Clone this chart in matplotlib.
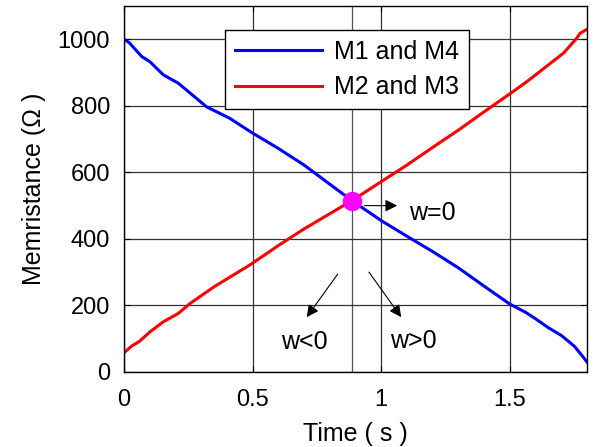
import numpy as np
import matplotlib.pyplot as plt

plt.rcParams['font.family'] = ['Liberation Sans', 'DejaVu Sans']

# datos
t_m1 = [0.0, 0.02, 0.069, 0.1, 0.153, 0.211, 0.321, 0.41, 0.5, 0.6, 0.7, 0.886,
        1.0, 1.1, 1.2, 1.3, 1.4, 1.5, 1.56, 1.6, 1.65, 1.7, 1.75, 1.78, 1.8]
r_m1 = [1000, 990, 948, 933, 893, 868, 797, 763, 718, 672, 622, 515,
        455, 408, 362, 313, 258, 204, 180, 160, 133, 110, 78, 50, 30]

t_m2 = [0.0, 0.03, 0.06, 0.1, 0.153, 0.211, 0.257, 0.35, 0.49, 0.6, 0.7, 0.886,
        1.0, 1.1, 1.2, 1.3, 1.4, 1.5, 1.565, 1.62, 1.708, 1.76, 1.773, 1.8]
r_m2 = [58, 78, 92, 120, 151, 176, 206, 256, 322, 380, 430, 515,
        572, 622, 675, 727, 782, 836, 872, 905, 958, 1003, 1018, 1030]

t_cruce = 0.886
r_cruce = 515

fs = 18

fig = plt.figure(figsize=(5.97, 4.47), dpi=100)
ax = fig.add_axes([124/597, 1-372/447, 463/597, 366/447])

ax.plot(t_m1, r_m1, color='blue', lw=2.2, label='M1 and M4')
ax.plot(t_m2, r_m2, color='red', lw=2.2, label='M2 and M3')
ax.axvline(t_cruce, color='#555555', lw=0.9, zorder=1)
ax.plot(t_cruce, r_cruce, 'o', color='magenta', ms=13, zorder=5)

ax.set_xlim(0, 1.8)
ax.set_ylim(0, 1100)
ax.set_xticks([0, 0.5, 1, 1.5])
ax.set_xticklabels(['0', '0.5', '1', '1.5'])
ax.set_yticks([0, 200, 400, 600, 800, 1000])
ax.grid(True, color='#333333', lw=0.9)
ax.tick_params(direction='in', top=True, right=True, labelsize=17, length=4)
ax.tick_params(axis='y', pad=10)
ax.tick_params(axis='x', pad=12)
for s in ax.spines.values():
    s.set_linewidth(1.0)

ax.set_xlabel('Time ( s )', fontsize=fs, labelpad=8)
ax.set_ylabel('Memristance (\u03a9 )', fontsize=fs, labelpad=8)

ax.legend(loc='upper left', bbox_to_anchor=(0.218, 0.934), fontsize=fs,
          handlelength=3.5, handletextpad=0.45, borderpad=0.4, labelspacing=0.45,
          borderaxespad=0, fancybox=False, edgecolor='black', framealpha=1)

flecha = dict(arrowstyle='-|>', color='black', lw=0.8, mutation_scale=18)
ax.annotate('', xy=(1.073, 500), xytext=(0.924, 500), arrowprops=flecha)
ax.text(1.108, 479, 'w=0', fontsize=fs, ha='left', va='center')
ax.annotate('', xy=(0.704, 158), xytext=(0.837, 301), arrowprops=flecha)
ax.text(0.702, 91, 'w<0', fontsize=fs, ha='center', va='center')
ax.annotate('', xy=(1.084, 158), xytext=(0.946, 307), arrowprops=flecha)
ax.text(1.124, 93, 'w>0', fontsize=fs, ha='center', va='center')

plt.savefig('out.png', dpi=100)
